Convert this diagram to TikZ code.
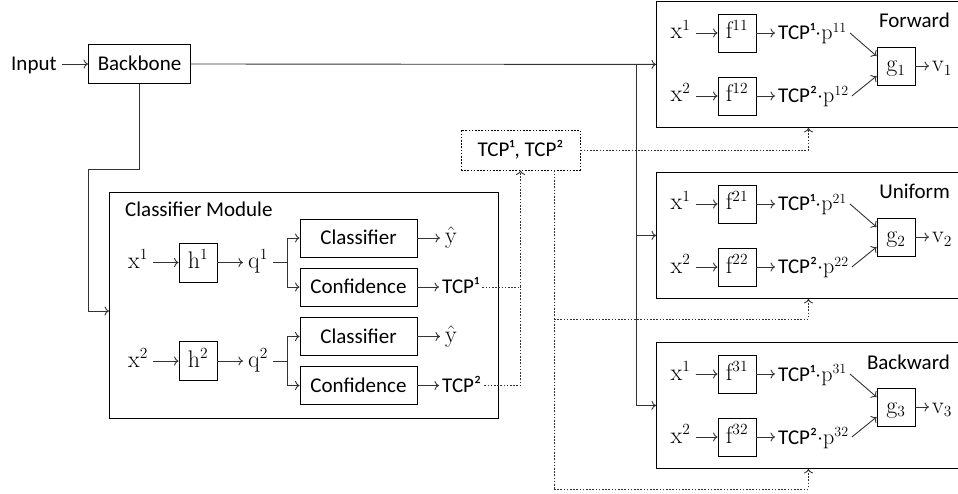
\RequirePackage{fix-cm}
\documentclass[tikz,border=0pt]{standalone}
\usepackage{fontspec}
\newfontfamily\carl{Carlito}
\usetikzlibrary{arrows.meta}
\DeclareMathSizes{24}{24}{15.5}{12}
\DeclareMathSizes{21}{22}{14}{11}
\begin{document}
\begin{tikzpicture}[x=1pt,y=-1pt,
  every node/.style={inner sep=1.5pt},
  sf/.style={font=\carl\fontsize{21}{25}\selectfont, text height=16pt, text depth=2pt, inner xsep=3pt},
  mth/.style={font=\fontsize{24}{28}\selectfont, text height=15pt, text depth=3pt, inner xsep=5pt},
  box/.style={draw, line width=0.9pt, inner sep=0pt, minimum height=38pt},
  ln/.style={line width=0.9pt, draw=black!80},
  arr/.style={ln, -{To[length=4.5pt,width=9pt]}},
  dln/.style={line width=0.9pt, draw=black!80, dash pattern=on 1.6pt off 1.6pt},
  darr/.style={dln, -{To[length=4.5pt,width=9pt]}},
]
\useasboundingbox (0,0) rectangle (958,494);
\clip (0,0) rectangle (958,494);

% Input and backbone
\node[sf, anchor=west] (inp) at (8,64) {Input};
\node[box, sf, minimum width=102, minimum height=39] (bb) at (139.5,64) {Backbone};
\draw[arr] ([xshift=2pt]inp.east) -- (bb.west);

% Classifier module
\node[draw, line width=0.9pt, minimum width=389, minimum height=226, anchor=north west, inner sep=0] (cm) at (109,192) {};
\node[sf, anchor=base west, text height=, text depth=] (cmlab) at (122,217) {Classifier Module};
\coordinate (bend1) at (88,169);
\coordinate (ent) at (88,311);
\draw[arr] (bb.south) |- (bend1) -- (ent) -- (cm.west |- ent);

\foreach \r/\y in {1/262.5, 2/361} {
  \node[mth] (x\r) at (138,\y) {$\mathrm{x}^\r$};
  \node[box, mth, minimum width=38, minimum height=39] (h\r) at (198,\y) {$\mathrm{h}^\r$};
  \node[mth] (q\r) at (258,\y) {$\mathrm{q}^\r$};
  \node[box, sf, minimum width=117] (cls\r) at (358.5,\y-24.5) {Classifier};
  \node[box, sf, minimum width=117] (conf\r) at (358.5,\y+24.5) {Confidence};
  \node[mth, anchor=west] (yh\r) at (440,\y-24.5) {$\hat{\mathrm{y}}$};
  \node[sf, anchor=west] (tcp\r) at (439,\y+24.5) {TCP\ifnum\r=1 ¹\else ²\fi};
  \draw[arr] (x\r.east) -- (h\r.west);
  \draw[arr] (h\r.east) -- (q\r.west);
  \coordinate (sp\r) at (287,\y);
  \draw[ln] (q\r.east) -- (sp\r);
  \draw[arr] (sp\r) |- (cls\r.west);
  \draw[arr] (sp\r) |- (conf\r.west);
  \draw[arr] (cls\r.east) -- (cls\r.east -| yh\r.west);
  \draw[arr] (conf\r.east) -- (tcp\r.west);
}

% TCP box
\node[draw, line width=0.9pt, dash pattern=on 1.6pt off 1.6pt, sf, minimum width=119, minimum height=40, inner sep=0] (tcpb) at (520.5,150) {TCP¹, TCP²};
\draw[darr] (tcp1.east) -| (tcpb.south);
\draw[dln] (tcp2.east) -| (tcp1.east -| tcpb.south);

% Right modules
\foreach \T/\nm/\lab/\k in {1/fwd/Forward/1, 172/uni/Uniform/2, 342/bwd/Backward/3} {
  \node[draw, line width=0.9pt, minimum width=304, minimum height=126, anchor=north west, inner sep=0] (\nm) at (656,\T) {};
  \node[sf, anchor=base east, text height=, text depth=, inner xsep=0pt] (\nm-lab) at (950,\T+27) {\lab};
  \node[mth] (\nm-x1) at (680.5,\T+32) {$\mathrm{x}^1$};
  \node[mth] (\nm-x2) at (680.5,\T+95) {$\mathrm{x}^2$};
  \node[box, mth, minimum width=38] (\nm-f1) at (737,\T+32) {$\mathrm{f}^{\k1}$};
  \node[box, mth, minimum width=38] (\nm-f2) at (737,\T+95) {$\mathrm{f}^{\k2}$};
  \node[sf, anchor=west] (\nm-p1) at (775,\T+32) {TCP¹$\cdot\mathrm{p}^{\k1}$};
  \node[sf, anchor=west] (\nm-p2) at (775,\T+95) {TCP²$\cdot\mathrm{p}^{\k2}$};
  \node[box, mth, minimum width=38] (\nm-g) at (896,\T+65) {$\mathrm{g}_\k$};
  \node[mth, anchor=west, inner xsep=3pt] (\nm-v) at (929,\T+65) {$\mathrm{v}_\k$};
  \draw[arr] (\nm-x1.east) -- (\nm-f1.west);
  \draw[arr] (\nm-x2.east) -- (\nm-f2.west);
  \draw[arr] (\nm-f1.east) -- (\nm-p1.west);
  \draw[arr] (\nm-f2.east) -- (\nm-p2.west);
  \draw[arr] (\nm-p1.east) -- ([yshift=10pt]\nm-g.west);
  \draw[arr] (\nm-p2.east) -- ([yshift=-10pt]\nm-g.west);
  \draw[arr] (\nm-g.east) -- (\nm-v.west);
}

% Bus from backbone
\coordinate (bus) at (636,0);
\draw[arr] (bb.east) -- (fwd.west);
\draw[ln] (bb.east -| bus) -- (bwd.west -| bus);
\draw[arr] (uni.west -| bus) -- (uni.west);
\draw[arr] (bwd.west -| bus) -- (bwd.west);

% Dotted TCP distribution
\draw[darr] (tcpb.east) -| (fwd.south);
\coordinate (tb) at ([xshift=33.5pt]tcpb.south);
\coordinate (midy) at (0,319);
\coordinate (lowy) at (0,489);
\draw[dln] (tb) -- (tb |- lowy);
\draw[darr] (tb |- lowy) -| (bwd.south);
\draw[darr] (tb |- midy) -| (uni.south);
\end{tikzpicture}
\end{document}
